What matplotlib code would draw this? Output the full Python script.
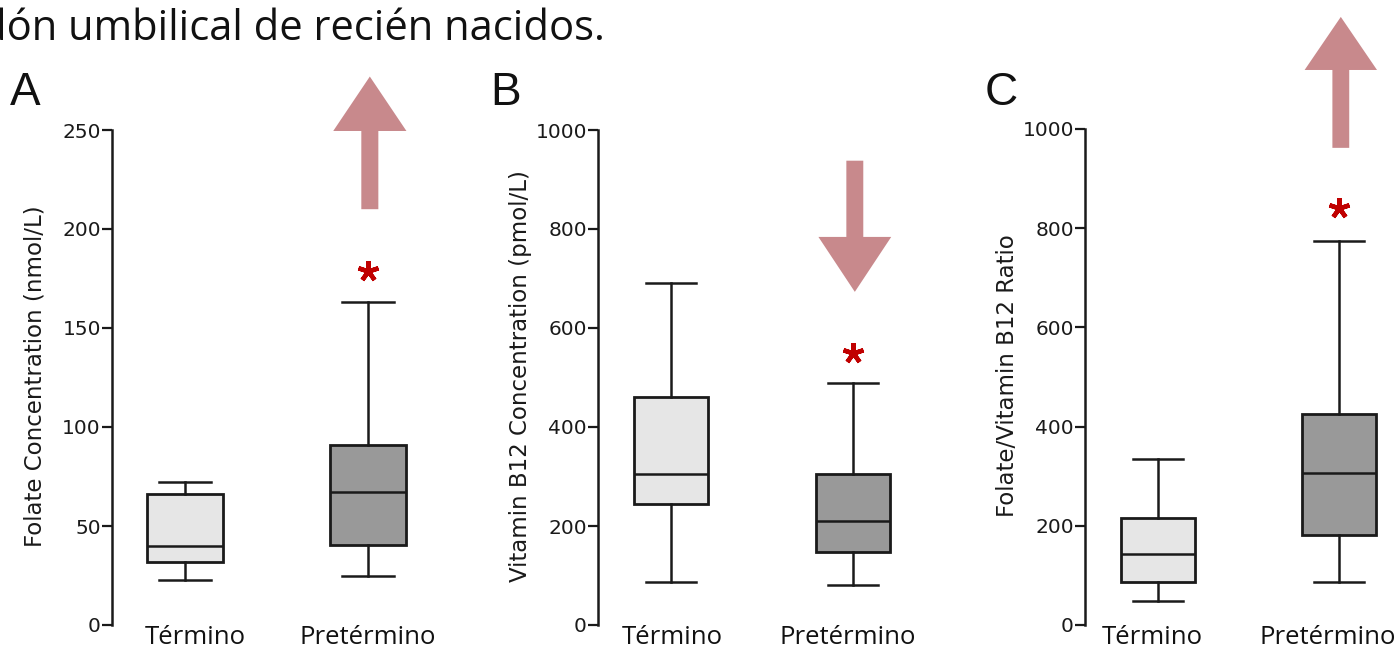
import matplotlib
matplotlib.use("Agg")
import matplotlib.pyplot as plt
from matplotlib.patches import FancyArrow
from matplotlib.transforms import offset_copy

# ---------------- data ----------------
categories = ["Término", "Pretérmino"]
panel_letters = ["A", "B", "C"]
ylabels = ["Folate Concentration (nmol/L)",
           "Vitamin B12 Concentration (pmol/L)",
           "Folate/Vitamin B12 Ratio"]
yticks_A = [0, 50, 100, 150, 200, 250]
yticks_B = [0, 200, 400, 600, 800, 1000]
yticks_C = [0, 200, 400, 600, 800, 1000]

# [whisker low, q1, median, q3, whisker high] for Término, Pretérmino
folate_termino = [22.5, 32, 40, 66, 72]
folate_pretermino = [25, 40.5, 67, 91, 163]
b12_termino = [86, 244, 306, 460, 690]
b12_pretermino = [80, 148, 210, 306, 488]
ratio_termino = [48, 86, 144, 215, 335]
ratio_pretermino = [86, 181, 306, 426, 774]

# significance star heights
star_values = [179, 549, 841]
# arrows: (tail value, tip value, head base value)
arrow_A = [210, 277, 249.5]
arrow_B = [938, 673, 784]
arrow_C = [962, 1226, 1119]

title_text = "cordón umbilical de recién nacidos."

# ---------------- layout ----------------
W, H = 1400, 662
fig = plt.figure(figsize=(W / 100, H / 100), dpi=100)
fig.patch.set_facecolor("white")

fill_colors = ["#e6e6e6", "#999999"]
arrow_color = "#c8898c"
star_color = "#c00000"

panels = [
    dict(axis_px=112, ppu=183, top_val=250, top_px=130, ticks=yticks_A,
         data=[folate_termino, folate_pretermino], arrow=arrow_A,
         letter_px=10, ylabel_px=35, label_shift=[10, 0]),
    dict(axis_px=598, ppu=182, top_val=1000, top_px=130, ticks=yticks_B,
         data=[b12_termino, b12_pretermino], arrow=arrow_B,
         letter_px=490, ylabel_px=520, label_shift=[1, -5]),
    dict(axis_px=1085, ppu=181, top_val=1000, top_px=129, ticks=yticks_C,
         data=[ratio_termino, ratio_pretermino], arrow=arrow_C,
         letter_px=985, ylabel_px=1007, label_shift=[-6, -11]),
]

zero_px = 625
tick_font = ["DejaVu Sans"]
label_font = ["Open Sans", "DejaVu Sans"]

for i, p in enumerate(panels):
    left_units = 73 / p["ppu"]
    xmin = 1 - left_units
    xmax = 2.6
    width_px = (xmax - xmin) * p["ppu"]
    scale = (zero_px - p["top_px"]) / p["top_val"]  # px per value
    ymax = zero_px / scale
    ax = fig.add_axes([p["axis_px"] / W, (H - zero_px) / H,
                       width_px / W, zero_px / H])
    ax.set_xlim(xmin, xmax)
    ax.set_ylim(0, ymax)
    ax.patch.set_alpha(0)

    stats = []
    for cat, d in zip(categories, p["data"]):
        stats.append(dict(label=cat, whislo=d[0], q1=d[1], med=d[2],
                          q3=d[3], whishi=d[4], fliers=[]))
    bp = ax.bxp(stats, positions=[1, 2], widths=0.41, capwidths=0.28,
                patch_artist=True, showfliers=False,
                boxprops=dict(linewidth=2.0, edgecolor="#1a1a1a"),
                medianprops=dict(linewidth=1.8, color="#1a1a1a"),
                whiskerprops=dict(linewidth=1.8, color="#1a1a1a"),
                capprops=dict(linewidth=1.8, color="#1a1a1a"))
    for patch, c in zip(bp["boxes"], fill_colors):
        patch.set_facecolor(c)

    # spines
    for s in ["top", "right", "bottom"]:
        ax.spines[s].set_visible(False)
    ax.spines["left"].set_linewidth(1.8)
    ax.spines["left"].set_color("#1a1a1a")
    ax.spines["left"].set_bounds(0, p["top_val"])
    ax.set_yticks(p["ticks"])
    ax.set_yticklabels([str(t) for t in p["ticks"]], family=tick_font,
                       fontsize=14.5, color="#1a1a1a")
    ax.tick_params(axis="y", length=7, width=1.6, color="#1a1a1a", pad=1)
    ax.set_xticks([1, 2])
    ax.set_xticklabels(categories, family=label_font, fontsize=18.5,
                       color="#111111")
    ax.tick_params(axis="x", length=0, pad=0)
    fig.canvas.draw()
    for lab, dx in zip(ax.get_xticklabels(), p["label_shift"]):
        lab.set_transform(offset_copy(lab.get_transform(), fig=fig,
                                      x=dx, y=0, units="dots"))

    # significance star
    ax.plot([2], [star_values[i]], marker=(5, 2, 0), markersize=15,
            markeredgewidth=3.2, color=star_color, clip_on=False)

    # arrow
    tail, tip, base = p["arrow"]
    ax.add_patch(FancyArrow(2.01, tail, 0, tip - tail, width=0.093,
                            head_width=0.40, head_length=abs(tip - base),
                            length_includes_head=True, color=arrow_color,
                            linewidth=0, clip_on=False))

    # panel letter
    fig.text(p["letter_px"] / W, (H - 105) / H, panel_letters[i],
             family=["Liberation Sans", "DejaVu Sans"], fontsize=33,
             color="#111111", ha="left", va="baseline")
    # y label
    fig.text(p["ylabel_px"] / W, (H - 376) / H, ylabels[i],
             family=tick_font, fontsize=16.5, rotation=90,
             color="#1a1a1a", ha="center", va="center")

fig.text(605 / W, (H - 40) / H, title_text, family=label_font,
         fontsize=30, color="#111111", ha="right", va="baseline")

fig.savefig("out.png", dpi=100, facecolor="white")
